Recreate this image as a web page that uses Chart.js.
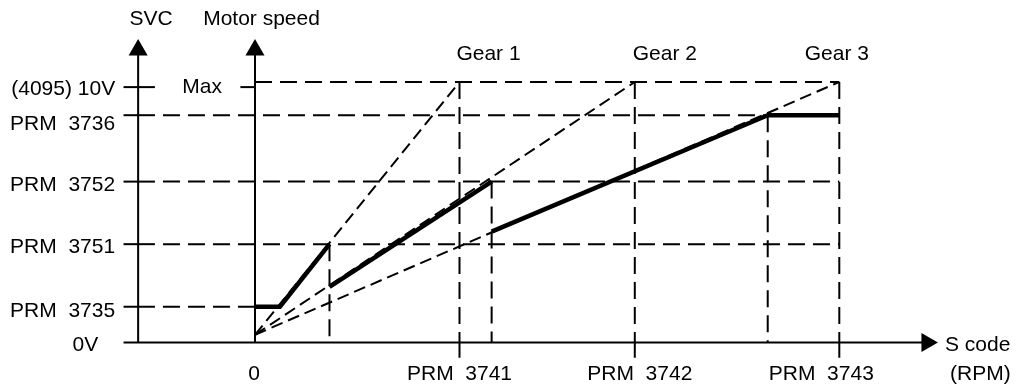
<!DOCTYPE html>
<html>
<head>
<meta charset="utf-8">
<title>SVC output vs S code</title>
<script src="https://cdn.jsdelivr.net/npm/chart.js@4/dist/chart.umd.min.js"></script>
<style>
  html, body { margin: 0; padding: 0; background: #fff; }
  canvas { display: block; }
</style>
</head>
<body>
<canvas id="gearChart" width="1024" height="387"></canvas>
<script>
// S code (rpm) at which each gear reaches max motor speed
const gearMax = [1400, 2600, 4000];
const gearLabels = ['Gear 1', 'Gear 2', 'Gear 3'];

// S code where the output switches to the next gear
const switchPoints = [510, 1620, 3510];

// SVC output levels (V) and their parameter names
const levelValues = [10, 8.9, 6.3, 3.85, 1.4, 0];
const levelLabels = ['(4095) 10V', 'PRM  3736', 'PRM  3752', 'PRM  3751', 'PRM  3735', '0V'];
const maxSpeed = 10.2;
const rampStart = 0.3;

// S code axis ticks
const sCodeTicks = [0, 1400, 2600, 4000];
const sCodeLabels = ['0', 'PRM  3741', 'PRM  3742', 'PRM  3743'];

// actual output, one piece per gear
const gear1Output = [{ x: 0, y: 1.4 }, { x: 170, y: 1.4 }, { x: 510, y: 3.85 }];
const gear2Output = [{ x: 510, y: 2.18 }, { x: 1620, y: 6.3 }];
const gear3Output = [{ x: 1620, y: 4.34 }, { x: 3510, y: 8.9 }, { x: 4000, y: 8.9 }];

// ---- drawing helpers ----
const INK = '#000';
const FONT = '21px "Liberation Sans", Arial, sans-serif';

// axis geometry in chart units
const svcAxisX = -800;
const leftEdgeX = -900;
const tickEndX = -685;
const dashStartX = -630;
const axisEndX = 4600;
const arrowY = 11.45;
const tickBelow = -0.6;

function line(points, opts) {
    return Object.assign({
        data: points,
        borderColor: INK,
        borderWidth: 2,
        borderDash: [],
        pointRadius: 0,
        fill: false,
        tension: 0,
        clip: false,
        order: 2
    }, opts || {});
}

const datasets = [];

// thick output curve
[gear1Output, gear2Output, gear3Output].forEach(function(pts) {
    datasets.push(line(pts, { borderWidth: 4.5, borderJoinStyle: 'round', order: 0 }));
});

// axes and ticks
datasets.push(line([{ x: leftEdgeX, y: 0 }, { x: axisEndX, y: 0 }], { order: 1 }));
datasets.push(line([{ x: svcAxisX, y: 0 }, { x: svcAxisX, y: arrowY }], { order: 1 }));
datasets.push(line([{ x: 0, y: 0 }, { x: 0, y: arrowY }], { order: 1 }));
levelValues.slice(0, 5).forEach(function(v) {
    datasets.push(line([{ x: leftEdgeX, y: v }, { x: tickEndX, y: v }], { order: 1 }));
});
datasets.push(line([{ x: -100, y: levelValues[0] }, { x: 0, y: levelValues[0] }], { order: 1 }));
gearMax.forEach(function(g) {
    datasets.push(line([{ x: g, y: 0 }, { x: g, y: tickBelow }], { order: 1 }));
});

// arrow heads
datasets.push({
    data: [{ x: svcAxisX, y: arrowY }, { x: 0, y: arrowY }, { x: axisEndX, y: 0 }],
    showLine: false,
    pointStyle: 'triangle',
    pointRadius: 11,
    pointRotation: [0, 0, 90],
    pointBackgroundColor: INK,
    pointBorderColor: INK,
    pointBorderWidth: 0,
    clip: false,
    order: 1
});

// dashed guide lines
const guideDash = [17, 8];
datasets.push(line([{ x: 0, y: maxSpeed }, { x: gearMax[2], y: maxSpeed }], { borderDash: guideDash }));
datasets.push(line([{ x: dashStartX, y: levelValues[1] }, { x: switchPoints[2], y: levelValues[1] }], { borderDash: guideDash }));
datasets.push(line([{ x: dashStartX, y: levelValues[2] }, { x: gearMax[2], y: levelValues[2] }], { borderDash: guideDash }));
datasets.push(line([{ x: dashStartX, y: levelValues[3] }, { x: gearMax[2], y: levelValues[3] }], { borderDash: guideDash }));
datasets.push(line([{ x: dashStartX, y: levelValues[4] }, { x: 0, y: levelValues[4] }], { borderDash: guideDash }));

gearMax.forEach(function(g) {
    datasets.push(line([{ x: g, y: maxSpeed }, { x: g, y: 0 }], { borderDash: guideDash }));
});
[levelValues[3], levelValues[2], levelValues[1]].forEach(function(top, i) {
    datasets.push(line([{ x: switchPoints[i], y: top }, { x: switchPoints[i], y: 0 }], { borderDash: guideDash }));
});

// gear ratio lines from the origin
gearMax.forEach(function(g) {
    datasets.push(line([{ x: 0, y: rampStart }, { x: g, y: maxSpeed }], { borderWidth: 2, borderDash: [12, 6] }));
});

// text labels
const labelPlugin = {
    id: 'diagramLabels',
    afterDatasetsDraw: function(chart) {
        const ctx = chart.ctx;
        const xs = chart.scales.x;
        const ys = chart.scales.y;
        const svcPx = xs.getPixelForValue(svcAxisX);
        const zeroPx = xs.getPixelForValue(0);

        ctx.save();
        ctx.fillStyle = INK;
        ctx.font = FONT;
        ctx.textBaseline = 'alphabetic';

        // level names left of the SVC axis
        const levelRight = [23, 23, 23, 23, 23, 40];
        const levelDrop = [8, 15, 9.5, 9, 10, 9];
        ctx.textAlign = 'right';
        levelLabels.forEach(function(t, i) {
            ctx.fillText(t, svcPx - levelRight[i], ys.getPixelForValue(levelValues[i]) + levelDrop[i]);
        });
        ctx.fillText('Max', zeroPx - 33, ys.getPixelForValue(levelValues[0]) + 6);

        // S code ticks
        const tickShift = [-1, 0, 5, -18];
        ctx.textAlign = 'center';
        sCodeLabels.forEach(function(t, i) {
            ctx.fillText(t, xs.getPixelForValue(sCodeTicks[i]) + tickShift[i], 380);
        });

        // gear names above the max line
        const gearShift = [29, 30, -2.5];
        gearLabels.forEach(function(t, i) {
            ctx.fillText(t, xs.getPixelForValue(gearMax[i]) + gearShift[i], 60);
        });

        // axis titles
        ctx.fillText('SVC', svcPx + 13, 25);
        ctx.fillText('Motor speed', zeroPx + 6.5, 25);
        ctx.textAlign = 'left';
        ctx.fillText('S code', 945, ys.getPixelForValue(0) + 9);
        ctx.fillText('(RPM)', 950, 380);
        ctx.restore();
    }
};

// chart area spans the whole diagram so that arrow heads are drawn too
new Chart(document.getElementById('gearChart'), {
    type: 'line',
    data: { datasets: datasets },
    options: {
        responsive: false,
        animation: false,
        events: [],
        layout: { padding: { left: 123.53, right: 82.45, top: 36.03, bottom: 29.18 } },
        scales: {
            x: { type: 'linear', min: leftEdgeX, max: 4700, display: false },
            y: { type: 'linear', min: tickBelow, max: 12, display: false }
        },
        plugins: {
            legend: { display: false },
            tooltip: { enabled: false }
        }
    },
    plugins: [labelPlugin]
});
</script>
</body>
</html>
